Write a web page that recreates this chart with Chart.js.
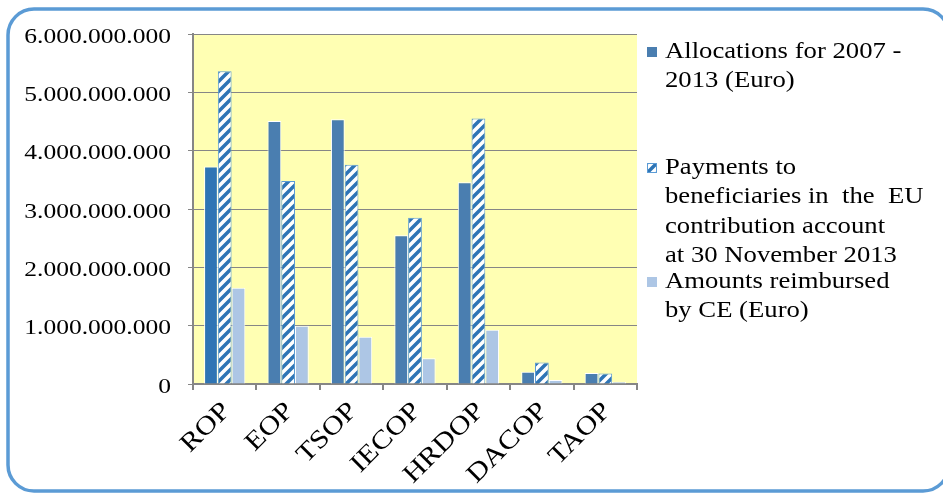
<!DOCTYPE html>
<html>
<head>
<meta charset="utf-8">
<script src="https://cdn.jsdelivr.net/npm/chart.js@4.4.0/dist/chart.umd.min.js"></script>
<style>
  body { margin: 0; background: #ffffff; }
  #wrap { width: 943px; height: 493px; position: relative; }
</style>
</head>
<body>
<div id="wrap"><canvas id="chart" width="943" height="493"></canvas></div>
<script>
// Datos del gráfico
var categories = ['ROP', 'EOP', 'TSOP', 'IECOP', 'HRDOP', 'DACOP', 'TAOP'];
var allocations = [3730000000, 4510000000, 4540000000, 2550000000, 3460000000, 210000000, 190000000];
var payments = [5360000000, 3480000000, 3760000000, 2850000000, 4550000000, 370000000, 180000000];
var reimbursed = [1650000000, 1000000000, 810000000, 440000000, 930000000, 70000000, 40000000];
var yTicks = [0, 1000000000, 2000000000, 3000000000, 4000000000, 5000000000, 6000000000];

var legendLines = [
    ['Allocations for 2007 -', '2013 (Euro)'],
    ['Payments to', 'beneficiaries in  the  EU', 'contribution account', 'at 30 November 2013'],
    ['Amounts reimbursed', 'by CE (Euro)']
];

var serif = "'Liberation Serif', 'Times New Roman', serif";
var stretch = 1.16; // el texto del original está algo ensanchado

function fmt(v) {
    return String(v).replace(/\B(?=(\d{3})+(?!\d))/g, '.');
}

// Patrón de rayas diagonales
function makeStripes() {
    var s = 10;
    var c = document.createElement('canvas');
    c.width = s; c.height = s;
    var g = c.getContext('2d');
    g.fillStyle = '#ffffff';
    g.fillRect(0, 0, s, s);
    g.strokeStyle = '#2e75b6';
    g.lineWidth = 3.5;
    g.beginPath();
    g.moveTo(-2, s + 2); g.lineTo(s + 2, -2);
    g.moveTo(-2, 2); g.lineTo(2, -2);
    g.moveTo(s - 2, s + 2); g.lineTo(s + 2, s - 2);
    g.stroke();
    return g.createPattern(c, 'repeat');
}
var stripes = makeStripes();

var allocColors = allocations.map(function(v, i) { return i === 0 ? '#2f75b5' : '#4a7eb0'; });

// Fondo amarillo y marco redondeado
var framePlugin = {
    id: 'frame',
    beforeDraw: function(chart) {
        var ctx = chart.ctx, a = chart.chartArea;
        ctx.save();
        ctx.fillStyle = '#ffffff';
        ctx.fillRect(0, 0, chart.width, chart.height);
        ctx.strokeStyle = '#5b9bd5';
        ctx.lineWidth = 3.5;
        ctx.beginPath();
        ctx.roundRect(8, 9, 941, 482, 26);
        ctx.stroke();
        ctx.fillStyle = '#ffffb3';
        ctx.fillRect(a.left, a.top, a.right - a.left, a.bottom - a.top);
        ctx.restore();
    }
};

// Etiquetas de ejes dibujadas a mano (ensanchadas como en el original)
var axisLabelsPlugin = {
    id: 'axisLabels',
    afterDraw: function(chart) {
        var ctx = chart.ctx;
        var ys = chart.scales.y, xs = chart.scales.x;
        ctx.save();
        ctx.fillStyle = '#000000';
        ctx.font = '22px ' + serif;
        ctx.textAlign = 'right';
        ctx.textBaseline = 'middle';
        yTicks.forEach(function(v) {
            var py = ys.getPixelForValue(v);
            ctx.save();
            ctx.translate(171, py + 3);
            ctx.scale(stretch, 1);
            ctx.fillText(fmt(v), 0, 0);
            ctx.restore();
        });
        ctx.font = '26px ' + serif;
        categories.forEach(function(c, i) {
            var px = xs.getPixelForValue(i);
            ctx.save();
            ctx.translate(px + 2, 407);
            ctx.rotate(-Math.PI / 4);
            ctx.scale(stretch, 1);
            ctx.fillText(c, 0, 0);
            ctx.restore();
        });
        ctx.restore();
    }
};

// Leyenda a mano (texto en varias líneas)
var legendPlugin = {
    id: 'multiLegend',
    afterDraw: function(chart) {
        var ctx = chart.ctx;
        var starts = [58, 174, 288];
        ctx.save();
        ctx.font = '23px ' + serif;
        ctx.textBaseline = 'alphabetic';
        legendLines.forEach(function(lines, i) {
            var ds = chart.data.datasets[i];
            var y0 = starts[i];
            ctx.fillStyle = i === 0 ? '#4a7eb0' : ds.backgroundColor;
            ctx.fillRect(647, y0 - 11, 10, 10);
            if (i === 1) {
                ctx.strokeStyle = '#5b9bd5';
                ctx.lineWidth = 1;
                ctx.strokeRect(647.5, y0 - 10.5, 9, 9);
            }
            ctx.fillStyle = '#000000';
            lines.forEach(function(t, j) {
                ctx.save();
                ctx.translate(665, y0 + j * 29.3);
                ctx.scale(stretch, 1);
                ctx.fillText(t, 0, 0);
                ctx.restore();
            });
        });
        ctx.restore();
    }
};

var ctx = document.getElementById('chart').getContext('2d');
var chart = new Chart(ctx, {
    type: 'bar',
    data: {
        labels: categories,
        datasets: [{
            label: 'Allocations for 2007 - 2013 (Euro)',
            data: allocations,
            backgroundColor: allocColors,
            borderColor: '#ffffff',
            borderWidth: 1
        }, {
            label: 'Payments to beneficiaries in the EU contribution account at 30 November 2013',
            data: payments,
            backgroundColor: stripes,
            borderColor: '#5b9bd5',
            borderWidth: 1
        }, {
            label: 'Amounts reimbursed by CE (Euro)',
            data: reimbursed,
            backgroundColor: '#adc6e5',
            borderColor: '#ffffff',
            borderWidth: 1
        }]
    },
    options: {
        responsive: false,
        animation: false,
        layout: { padding: { top: 34, right: 306, bottom: 0, left: 0 } },
        datasets: { bar: { categoryPercentage: 0.65, barPercentage: 1.0 } },
        plugins: {
            legend: { display: false },
            tooltip: { enabled: false }
        },
        scales: {
            x: {
                afterFit: function(scale) { scale.height = 109; },
                grid: {
                    offset: true,
                    drawOnChartArea: false,
                    drawTicks: true,
                    tickLength: 6,
                    color: '#868686',
                    lineWidth: 2
                },
                border: { display: true, color: '#868686', width: 2 },
                ticks: { display: false }
            },
            y: {
                min: 0,
                max: 6000000000,
                afterFit: function(scale) { scale.width = 193; },
                afterBuildTicks: function(scale) {
                    scale.ticks = yTicks.map(function(v) { return { value: v }; });
                },
                grid: { color: '#868686', lineWidth: 1, tickLength: 5 },
                border: { display: true, color: '#868686', width: 2 },
                ticks: { display: false }
            }
        }
    },
    plugins: [framePlugin, axisLabelsPlugin, legendPlugin]
});
</script>
</body>
</html>
